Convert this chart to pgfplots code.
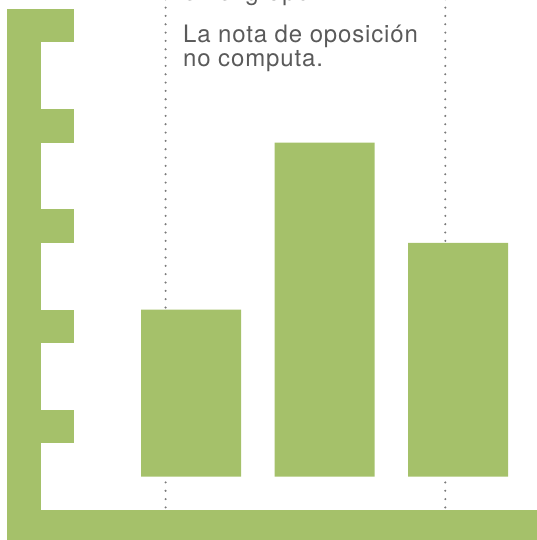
\documentclass[border=0pt]{standalone}
\usepackage{fontspec}
\setmainfont{TeX Gyre Heros}[LetterSpace=3.5]
\usepackage{pgfplots}
\pgfplotsset{compat=1.18}
\definecolor{barg}{HTML}{A5C16A}
\definecolor{txtg}{HTML}{5A5A5A}
\definecolor{dotg}{HTML}{7A7A7A}
\begin{document}
\begin{tikzpicture}
\begin{axis}[
  name=ax,
  scale only axis, width=537pt, height=540pt,
  xmin=0, xmax=537, ymin=-1.8952, ymax=14.2725,
  hide axis, clip=false,
]
% axis decoration (green L and tick bands)
\fill[barg] (axis cs:7.3,-1.8952) rectangle (axis cs:40.7,14.0);
\fill[barg] (axis cs:7.3,-1.8952) rectangle (axis cs:537,-0.997);
\fill[barg] (axis cs:40.2,1) rectangle (axis cs:74,2);
\fill[barg] (axis cs:40.2,4) rectangle (axis cs:74,5);
\fill[barg] (axis cs:40.2,7) rectangle (axis cs:74,8);
\fill[barg] (axis cs:40.2,10) rectangle (axis cs:74,11);
\fill[barg] (axis cs:40.2,13) rectangle (axis cs:74,14);
% dotted guides
\draw[dotg, line width=2.3pt, line cap=round, dash pattern=on 0pt off 8.33pt]
  (axis cs:165.6,-0.92) -- (axis cs:165.6,14.4);
\draw[dotg, line width=2.3pt, line cap=round, dash pattern=on 0pt off 8.33pt]
  (axis cs:445.3,-0.92) -- (axis cs:445.3,14.4);
% bars
\addplot[ybar, bar width=100, bar shift=0pt, fill=barg, draw=none]
  coordinates {(191,5) (324.5,10) (458,7)};
\node[anchor=base west, text=txtg, font=\fontsize{24pt}{26pt}\selectfont, inner sep=0pt]
  at (axis cs:183,14.27) {en el grupo.};
\node[anchor=base west, text=txtg, font=\fontsize{24pt}{26pt}\selectfont, inner sep=0pt]
  at (axis cs:183,13.0) {La nota de oposición};
\node[anchor=base west, text=txtg, font=\fontsize{24pt}{26pt}\selectfont, inner sep=0pt]
  at (axis cs:183,12.27) {no computa.};
\end{axis}
\pgfresetboundingbox
\useasboundingbox (ax.south west) rectangle (ax.north east);
\end{tikzpicture}
\end{document}
